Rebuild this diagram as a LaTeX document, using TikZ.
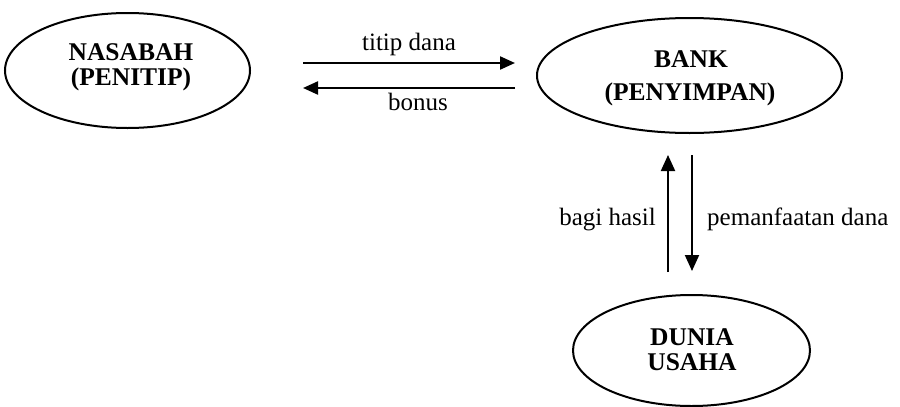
\documentclass[tikz,border=0pt]{standalone}
\usepackage{fontspec}
\setmainfont{Liberation Serif}
\usetikzlibrary{shapes.geometric,arrows.meta}
\begin{document}
\begin{tikzpicture}[x=1pt,y=-1pt,
  ell/.style={draw, ellipse, line width=2pt, inner sep=0pt},
  boldtxt/.style={font=\fontsize{25.5}{30}\selectfont\bfseries, anchor=base, inner sep=0pt},
  plaintxt/.style={font=\fontsize{25}{30}\selectfont, inner sep=0pt},
  hflow/.style={line width=2.2pt, -{Triangle[length=15pt,width=13pt]}},
  vflow/.style={line width=2pt, -{Triangle[length=16pt,width=14pt]}},
]
\useasboundingbox (0,0) rectangle (900,407);
% ellipses
\node[ell, minimum width=245pt, minimum height=115pt] (nasabah) at (127.5,70.5) {};
\node[ell, minimum width=305pt, minimum height=115pt] (bank) at (689.5,75.5) {};
\node[ell, minimum width=237pt, minimum height=111pt] (dunia) at (691.5,350.5) {};
% ellipse texts
\node[boldtxt] (nasabahA) at (131,60) {NASABAH};
\node[boldtxt] (nasabahB) at (131,85) {(PENITIP)};
\node[boldtxt] (bankA) at (691,67) {BANK};
\node[boldtxt] (bankB) at (690,100) {(PENYIMPAN)};
\node[boldtxt] (duniaA) at (692,345) {DUNIA};
\node[boldtxt] (duniaB) at (692,370) {USAHA};
% horizontal connectors
\coordinate (h1s) at (303,63);
\coordinate (h1e) at (515,63);
\coordinate (h2s) at (515,88);
\coordinate (h2e) at (303,88);
\draw[hflow] (h1s) -- (h1e);
\draw[hflow] (h2s) -- (h2e);
\node[plaintxt, anchor=base] (titip) at (409,50) {titip dana};
\node[plaintxt, anchor=base] (bonus) at (418,110) {bonus};
% vertical connectors
\coordinate (v1s) at (668,272);
\coordinate (v1e) at (668,155);
\coordinate (v2s) at (692,155);
\coordinate (v2e) at (692,271);
\draw[vflow] (v1s) -- (v1e);
\draw[vflow] (v2s) -- (v2e);
\node[plaintxt, anchor=base east] (bagi) at (656,225) {bagi hasil};
\node[plaintxt, anchor=base west] (pemanfaatan) at (707,225) {pemanfaatan dana};
\end{tikzpicture}
\end{document}
